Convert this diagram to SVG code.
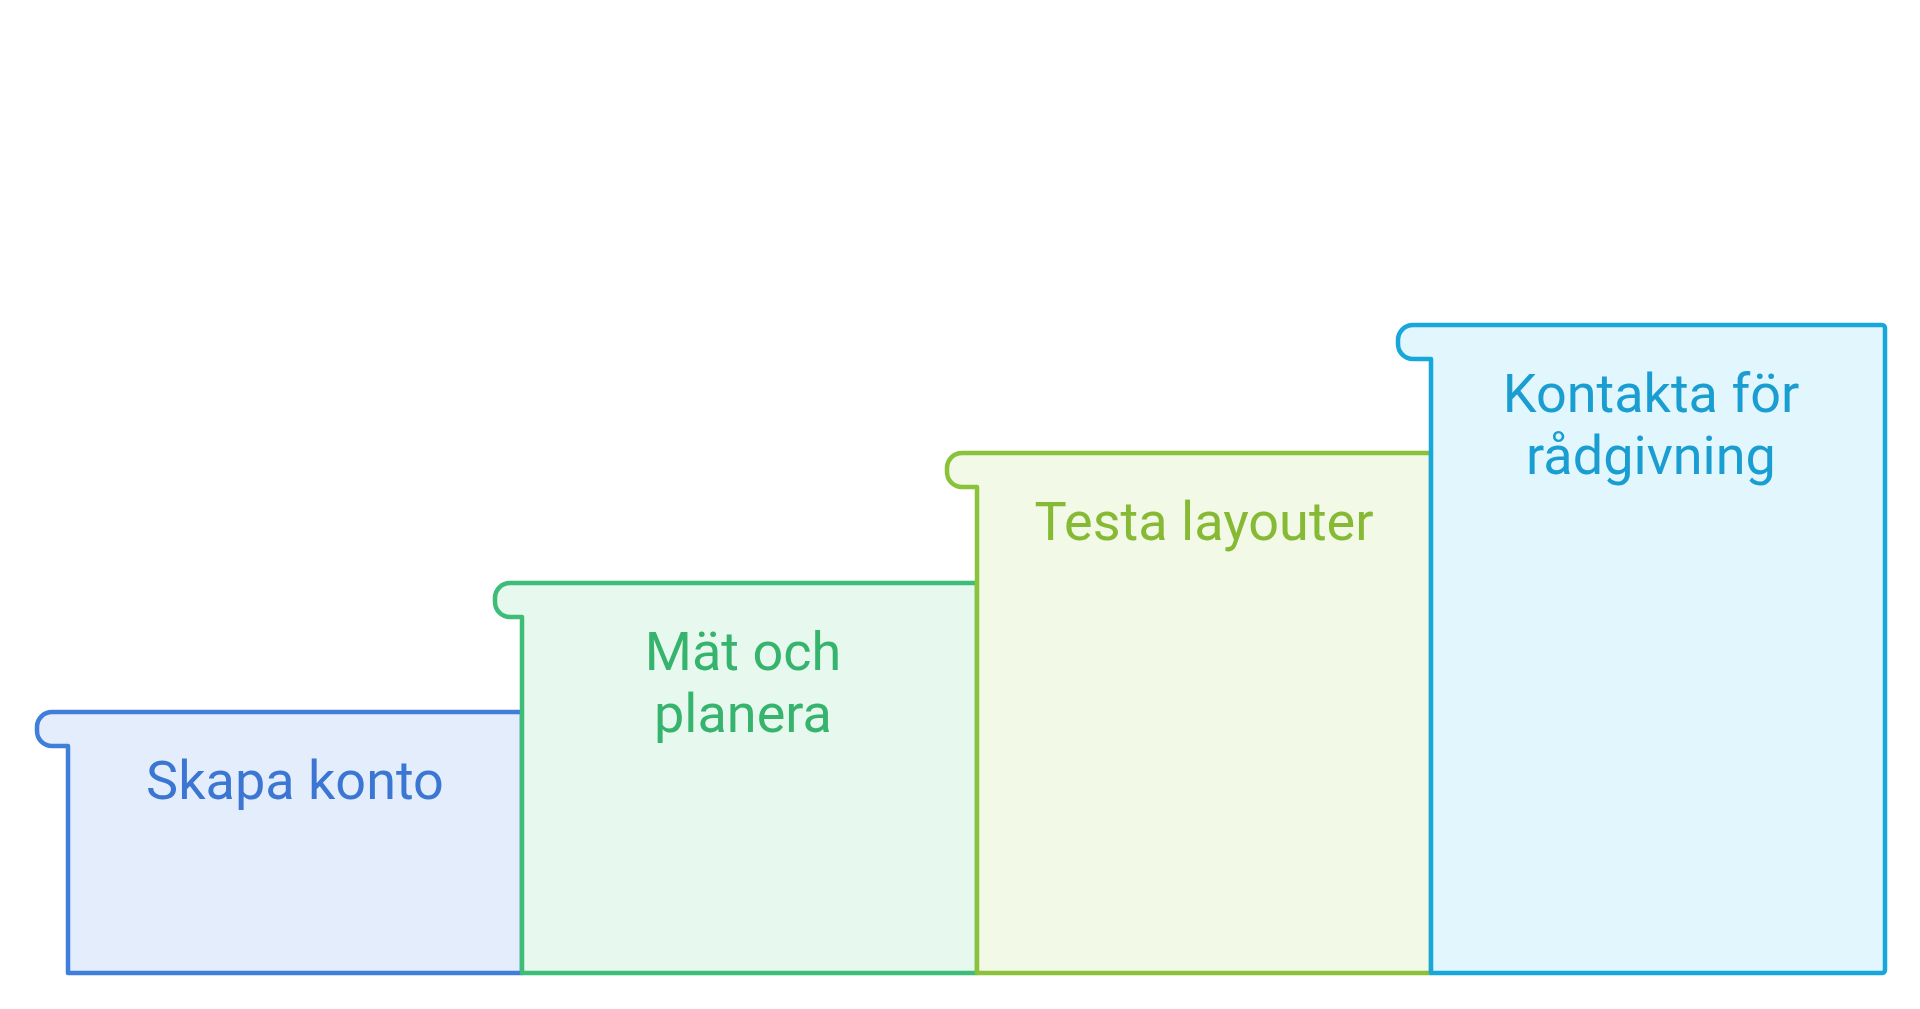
<svg xmlns="http://www.w3.org/2000/svg" width="1920" height="1009" viewBox="0 0 1920 1009">
  <style>
    .step { stroke-width: 4.5; stroke-linejoin: round; }
    .lbl { font-family: Roboto, "Liberation Sans", sans-serif; font-size: 54px; text-anchor: middle; }
    .s1 { fill: #e4edfc; stroke: #3f7fdb; }
    .s2 { fill: #e7f8ee; stroke: #3dbd78; }
    .s3 { fill: #f3f9e7; stroke: #8ac23a; }
    .s4 { fill: #e2f6fd; stroke: #18a7da; }
    .t1 { fill: #3a76d2; }
    .t2 { fill: #36b46e; }
    .t3 { fill: #86ba34; }
    .t4 { fill: #1a9ed2; }
  </style>
  <rect width="1920" height="1009" fill="#ffffff"/>
  <g id="step-1">
    <path class="step s1" d="M522,712 H52 A15,15 0 0 0 37,727 V731 A15,15 0 0 0 52,746 H68 V973 H522 Z"/>
    <text class="lbl t1" x="295" y="799">Skapa konto</text>
  </g>
  <g id="step-2">
    <path class="step s2" d="M977,583 H510 A15,15 0 0 0 495,598 V602 A15,15 0 0 0 510,617 H522 V973 H977 Z"/>
    <text class="lbl t2" x="743" y="670">Mät och</text>
    <text class="lbl t2" x="743" y="732">planera</text>
  </g>
  <g id="step-3">
    <path class="step s3" d="M1431,453 H962 A15,15 0 0 0 947,468 V472 A15,15 0 0 0 962,487 H977 V973 H1431 Z"/>
    <text class="lbl t3" x="1204" y="540">Testa layouter</text>
  </g>
  <g id="step-4">
    <path class="step s4" d="M1882,325 H1413 A15,15 0 0 0 1398,340 V344 A15,15 0 0 0 1413,359 H1431 V973 H1882 A3,3 0 0 0 1885,970 V328 A3,3 0 0 0 1882,325 Z"/>
    <text class="lbl t4" x="1651" y="412">Kontakta för</text>
    <text class="lbl t4" x="1651" y="474">rådgivning</text>
  </g>
  <g id="connectors"></g>
</svg>
